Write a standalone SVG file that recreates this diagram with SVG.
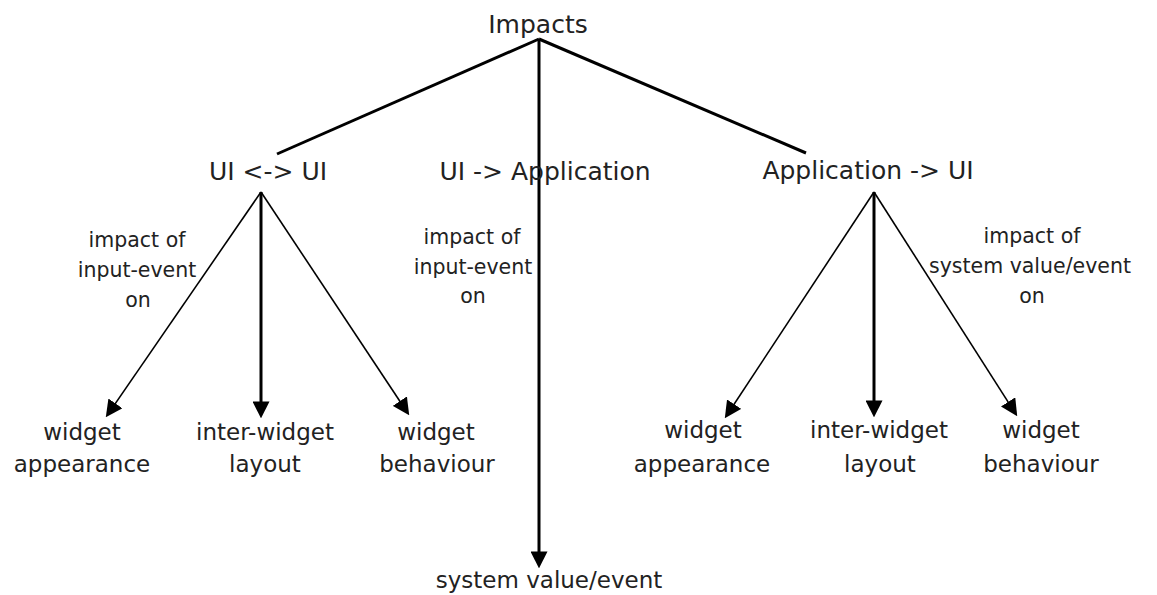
<svg xmlns="http://www.w3.org/2000/svg" width="1157" height="595" viewBox="0 0 1157 595">
<style>
  text { font-family: "DejaVu Sans", "Liberation Sans", sans-serif; fill: #222; text-anchor: middle; }
  .t1 { font-size: 25px; }
  .t2 { font-size: 23px; }
  .t3 { font-size: 20.5px; }
  .thick { stroke: #000; stroke-width: 3; fill: none; }
  .thin { stroke: #000; stroke-width: 1.6; fill: none; }
</style>
<defs>
  <marker id="arr" viewBox="0 0 16 16" refX="10" refY="8" markerWidth="17" markerHeight="17" markerUnits="userSpaceOnUse" orient="auto">
    <path d="M0,0 L16,8 L0,16 z" fill="#000"/>
  </marker>
</defs>
<rect width="1157" height="595" fill="#fff"/>
<g id="connectors">
  <line class="thick" x1="539" y1="39" x2="277" y2="154"/>
  <line class="thick" x1="539" y1="39" x2="806" y2="153"/>
  <line class="thick" x1="539" y1="39" x2="539" y2="562" marker-end="url(#arr)"/>
  <line class="thin" x1="261" y1="192" x2="109.4" y2="412.1" marker-end="url(#arr)"/>
  <line class="thick" x1="261" y1="192" x2="261" y2="412" marker-end="url(#arr)"/>
  <line class="thin" x1="261" y1="192" x2="405.7" y2="410" marker-end="url(#arr)"/>
  <line class="thin" x1="874" y1="192" x2="728.3" y2="413" marker-end="url(#arr)"/>
  <line class="thick" x1="874" y1="192" x2="874" y2="411" marker-end="url(#arr)"/>
  <line class="thin" x1="874" y1="192" x2="1013.8" y2="410.9" marker-end="url(#arr)"/>
</g>
<g id="impacts"><text class="t1" x="538" y="33">Impacts</text></g>
<g id="ui-ui"><text class="t1" x="268" y="180">UI &lt;-&gt; UI</text></g>
<g id="ui-app"><text class="t1" x="545" y="180">UI -&gt; Application</text></g>
<g id="app-ui"><text class="t1" x="868" y="179">Application -&gt; UI</text></g>
<g id="label-left">
  <text class="t3" x="137" y="247">impact of</text>
  <text class="t3" x="137" y="277">input-event</text>
  <text class="t3" x="138" y="307">on</text>
</g>
<g id="label-mid">
  <text class="t3" x="472" y="244">impact of</text>
  <text class="t3" x="473" y="274">input-event</text>
  <text class="t3" x="473" y="303">on</text>
</g>
<g id="label-right">
  <text class="t3" x="1032" y="243">impact of</text>
  <text class="t3" x="1030" y="273">system value/event</text>
  <text class="t3" x="1032" y="303">on</text>
</g>
<g id="l-appearance"><text class="t2" x="82" y="440">widget</text><text class="t2" x="82" y="472">appearance</text></g>
<g id="l-layout"><text class="t2" x="265" y="440">inter-widget</text><text class="t2" x="265" y="472">layout</text></g>
<g id="l-behaviour"><text class="t2" x="436" y="440">widget</text><text class="t2" x="437" y="472">behaviour</text></g>
<g id="system-value"><text class="t2" x="549" y="588">system value/event</text></g>
<g id="r-appearance"><text class="t2" x="703" y="438">widget</text><text class="t2" x="702" y="472">appearance</text></g>
<g id="r-layout"><text class="t2" x="879" y="438">inter-widget</text><text class="t2" x="880" y="472">layout</text></g>
<g id="r-behaviour"><text class="t2" x="1041" y="438">widget</text><text class="t2" x="1041" y="472">behaviour</text></g>
</svg>
